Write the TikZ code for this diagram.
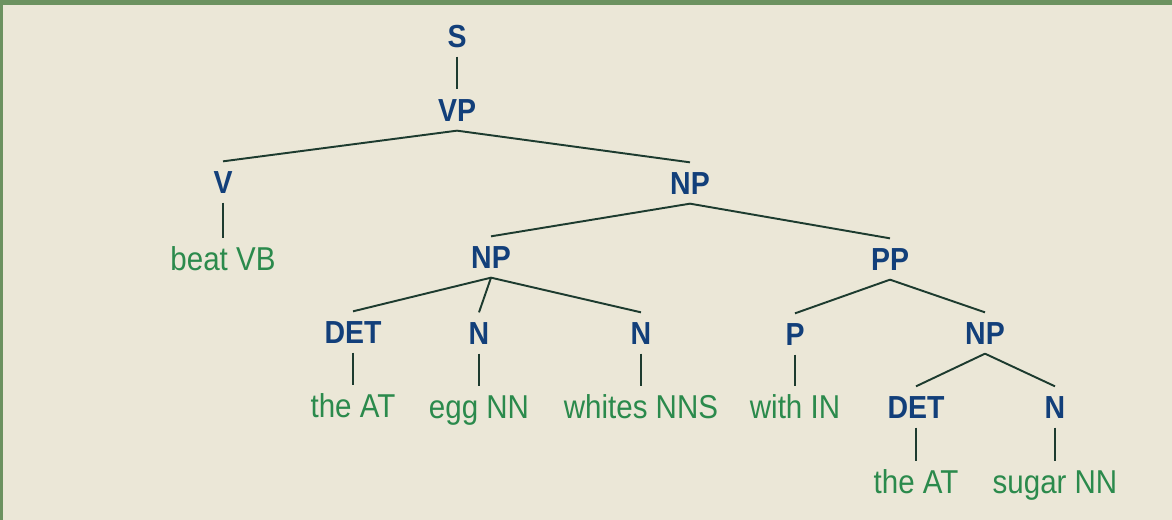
\documentclass[tikz,border=0pt]{standalone}
\usepackage{fontspec}
\setmainfont{Liberation Sans}
\definecolor{catblue}{HTML}{123F7A}
\definecolor{wordgreen}{HTML}{2B8A4C}
\definecolor{edgedark}{HTML}{1D3B2F}
\definecolor{papercream}{HTML}{EBE7D7}
\definecolor{framegreen}{HTML}{6C9260}
\tikzset{%
  treenode/.style = {font=\fontsize{16.2}{18}\selectfont\bfseries,%
                     text=catblue, text height=11.6pt, text depth=0pt,%
                     inner xsep=0pt, inner ysep=4.5pt, yscale=1.12},%
  leaf/.style     = {treenode, font=\fontsize{16.8}{19}\selectfont,%
                     text=wordgreen},%
  branch/.style   = {draw=edgedark, line width=1.1pt}%
}

\begin{document}
\begin{tikzpicture}[x=0.02cm,y=-0.02cm]
	\fill[papercream] (0,0) rectangle (1172,520);
	\fill[framegreen] (0,0) rectangle (1172,5);
	\fill[framegreen] (0,0) rectangle (3,520);
	% categories
	\node[treenode] (S)    at (457,36)  {S};
	\node[treenode] (VP)   at (457,110) {VP};
	\node[treenode] (V)    at (223,182) {V};
	\node[treenode] (NPa)  at (690,183) {NP};
	\node[treenode] (NPb)  at (491,257) {NP};
	\node[treenode] (PP)   at (890,259) {PP};
	\node[treenode] (DETa) at (353,332) {DET};
	\node[treenode] (Na)   at (479,333) {N};
	\node[treenode] (Nb)   at (641,333) {N};
	\node[treenode] (P)    at (795,334) {P};
	\node[treenode] (NPc)  at (985,333) {NP};
	\node[treenode] (DETb) at (916,407) {DET};
	\node[treenode] (Nc)   at (1055,407) {N};
	% words
	\node[leaf] (beat)   at (223,259)  {beat VB};
	\node[leaf] (theA)   at (353,406)  {the AT};
	\node[leaf] (egg)    at (479,407)  {egg NN};
	\node[leaf] (whites) at (641,407)  {whites NNS};
	\node[leaf] (with)   at (795,407)  {with IN};
	\node[leaf] (theB)   at (916,482)  {the AT};
	\node[leaf] (sugar)  at (1055,482) {sugar NN};
	% branches
	\draw[branch] (S.south) -- (VP.north);
	\draw[branch] (VP.south) -- (V.north);
	\draw[branch] (VP.south) -- (NPa.north);
	\draw[branch] (V.south) -- (beat.north);
	\draw[branch] (NPa.south) -- (NPb.north);
	\draw[branch] (NPa.south) -- (PP.north);
	\draw[branch] (NPb.south) -- (DETa.north);
	\draw[branch] (NPb.south) -- (Na.north);
	\draw[branch] (NPb.south) -- (Nb.north);
	\draw[branch] (PP.south) -- (P.north);
	\draw[branch] (PP.south) -- (NPc.north);
	\draw[branch] (DETa.south) -- (theA.north);
	\draw[branch] (Na.south) -- (egg.north);
	\draw[branch] (Nb.south) -- (whites.north);
	\draw[branch] (P.south) -- (with.north);
	\draw[branch] (NPc.south) -- (DETb.north);
	\draw[branch] (NPc.south) -- (Nc.north);
	\draw[branch] (DETb.south) -- (theB.north);
	\draw[branch] (Nc.south) -- (sugar.north);
\end{tikzpicture}
\end{document}
